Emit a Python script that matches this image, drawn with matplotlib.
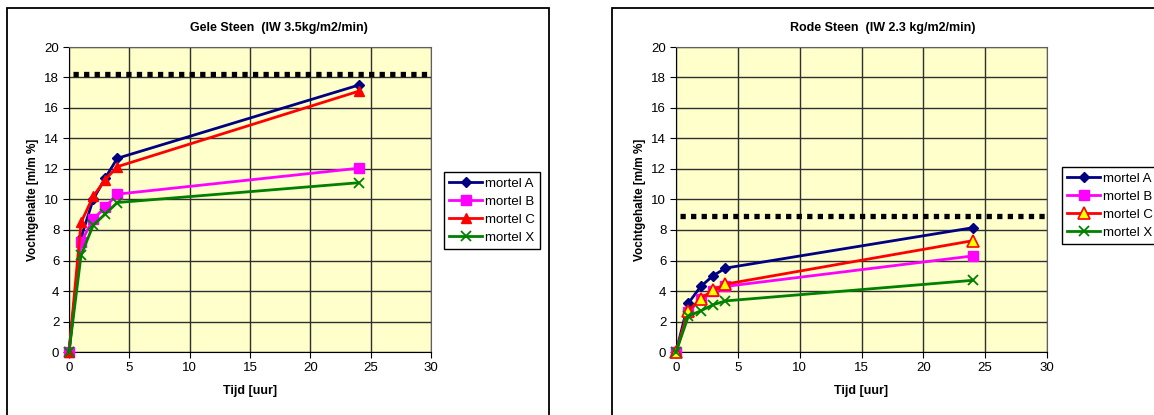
import matplotlib
matplotlib.use('Agg')
from matplotlib import pyplot as plt
from matplotlib.patches import Rectangle

plt.rcParams['font.family'] = ['Liberation Sans', 'DejaVu Sans']

# meetmomenten in uren
tijd = [0, 1, 2, 3, 4, 24]

# Gele steen
gele_A = [0, 7.5, 10.0, 11.4, 12.7, 17.5]
gele_B = [0, 7.2, 8.7, 9.5, 10.35, 12.05]
gele_C = [0, 8.5, 10.2, 11.3, 12.15, 17.1]
gele_X = [0, 6.35, 8.3, 9.05, 9.8, 11.1]
gele_grens = 18.25

# Rode steen
rode_A = [0, 3.2, 4.3, 5.0, 5.5, 8.15]
rode_B = [0, 2.65, 3.45, 4.0, 4.3, 6.3]
rode_C = [0, 2.7, 3.5, 4.05, 4.45, 7.3]
rode_X = [0, 2.35, 2.7, 3.1, 3.35, 4.7]
rode_grens = 8.95

namen = ['mortel A', 'mortel B', 'mortel C', 'mortel X']

W, H = 1154, 415
fig = plt.figure(figsize=(W / 100, H / 100), dpi=100)


def box(x0, x1, y0, y1):
    # pixel coordinates -> figure fraction
    return [x0 / W, 1 - y1 / H, (x1 - x0) / W, (y1 - y0) / H]


def chart(pos, reeksen, grens, titel, titel_x, leg_xy, open_driehoek):
    ax = fig.add_axes(pos)
    ax.set_facecolor('#FFFFCC')
    ax.set_xlim(0, 30)
    ax.set_ylim(0, 20)
    ax.set_xticks(range(0, 31, 5))
    ax.set_yticks(range(0, 21, 2))
    ax.grid(True, color='#303030', linewidth=1)
    ax.set_axisbelow(True)
    for s in ax.spines.values():
        s.set_color('#606060')
    ax.spines['left'].set_color('black')
    ax.spines['bottom'].set_color('black')
    ax.tick_params(direction='out', length=4, labelsize=9.5, colors='black', pad=3)

    # grenswaarde als stippellijn
    ax.plot([0.3, 29.8], [grens, grens], color='black', linewidth=3.8,
            linestyle=(0, (1, 1.0)), dash_capstyle='butt', zorder=2)

    A, B, C, X = reeksen
    ax.plot(tijd, A, color='#000080', marker='D', markersize=5, linewidth=2,
            label=namen[0], zorder=3, clip_on=False)
    ax.plot(tijd, B, color='#FF00FF', marker='s', markersize=7.5, linewidth=2,
            label=namen[1], zorder=3, clip_on=False)
    if open_driehoek:
        ax.plot(tijd, C, color='#FF0000', marker='^', markersize=8, linewidth=2,
                markerfacecolor='#FFFF00', markeredgecolor='#FF0000',
                markeredgewidth=1.2, label=namen[2], zorder=4, clip_on=False)
    else:
        ax.plot(tijd, C, color='#FF0000', marker='^', markersize=7.5, linewidth=2,
                label=namen[2], zorder=3, clip_on=False)
    ax.plot(tijd, X, color='#008000', marker='x', markersize=6.5, markeredgewidth=1.3,
            linewidth=2, label=namen[3], zorder=5, clip_on=False)

    ax.set_xlabel('Tijd [uur]', fontsize=9, fontweight='bold', labelpad=8)
    ax.set_ylabel('Vochtgehalte [m/m %]', fontsize=8.5, fontweight='bold', labelpad=4)
    fig.text(titel_x / W, 1 - 28 / H, titel, fontsize=9, fontweight='bold',
             ha='center', va='center')

    leg = ax.legend(loc='upper left', bbox_to_anchor=(leg_xy[0] / W, 1 - leg_xy[1] / H),
                    bbox_transform=fig.transFigure, fontsize=9.5, frameon=True,
                    fancybox=False, edgecolor='black', framealpha=1,
                    handlelength=2.5, handletextpad=0.2, borderpad=0.4,
                    labelspacing=0.45, borderaxespad=0)
    leg.get_frame().set_linewidth(1)
    return ax


# kaders rond beide grafieken
fig.patches.append(Rectangle((7 / W, -0.1), (549 - 7) / W, 1 - 8 / H + 0.1,
                             transform=fig.transFigure, fill=False,
                             edgecolor='black', linewidth=1.3))
fig.patches.append(Rectangle((612 / W, -0.1), 0.5, 1 - 8 / H + 0.1,
                             transform=fig.transFigure, fill=False,
                             edgecolor='black', linewidth=1.3))

chart(box(69, 431, 47, 352), [gele_A, gele_B, gele_C, gele_X], gele_grens,
      'Gele Steen  (IW 3.5kg/m2/min)', 279, (444, 172), False)
chart(box(676, 1047, 47, 352), [rode_A, rode_B, rode_C, rode_X], rode_grens,
      'Rode Steen  (IW 2.3 kg/m2/min)', 883, (1062, 167), True)

plt.savefig('out.png', dpi=100)
